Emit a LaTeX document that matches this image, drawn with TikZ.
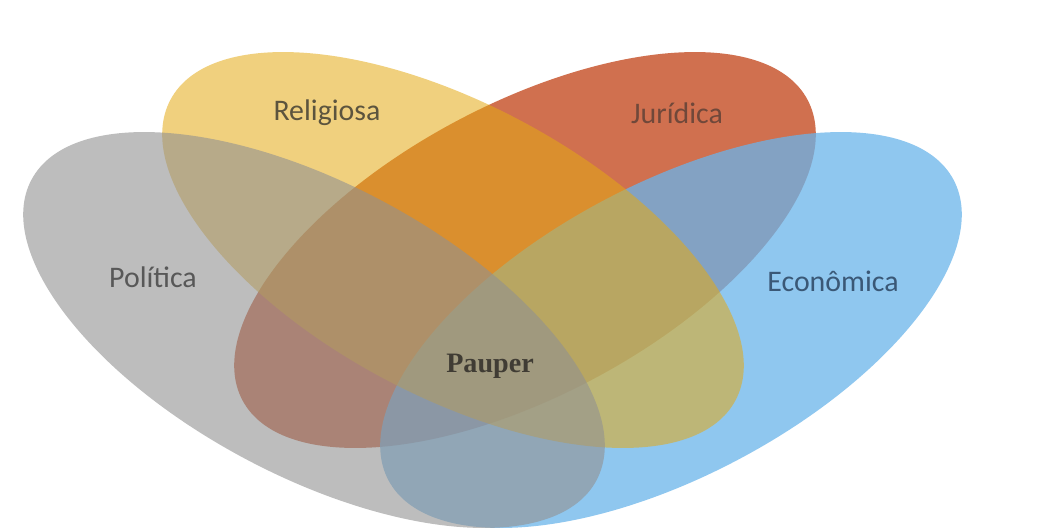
\documentclass[tikz,border=0pt]{standalone}
\usepackage{fontspec}
\setmainfont{Carlito}
\newfontfamily\pauperfont{Liberation Serif}
\usepackage{tikz}
\usetikzlibrary{positioning}
\definecolor{lobeRed}{RGB}{208,112,79}
\definecolor{lobeBlue}{RGB}{106,180,234}
\definecolor{lobeYellow}{RGB}{228,170,20}
\definecolor{lobeGray}{RGB}{145,145,145}
\definecolor{txtGray}{RGB}{88,88,88}
\definecolor{txtYellow}{RGB}{92,84,62}
\definecolor{txtRed}{RGB}{112,72,58}
\definecolor{txtBlue}{RGB}{58,88,118}
\definecolor{txtCore}{RGB}{64,60,52}

\tikzset{
  setlabel/.style={font=\fontsize{8.5pt}{10pt}\selectfont, inner sep=0pt},
  corelabel/.style={font=\pauperfont\bfseries\fontsize{8pt}{9pt}\selectfont, inner sep=0pt, text=txtCore}
}

\begin{document}
\begin{tikzpicture}[x=0.1mm, y=-0.1mm]
  \useasboundingbox (0,0) rectangle (1055,530);

  % same ellipse for all four sets, tilted by 28 degrees
  \pgfmathsetmacro{\ra}{320}
  \pgfmathsetmacro{\rb}{146}
  \pgfmathsetmacro{\tilt}{28}

  % Juridica (bottom layer)
  \fill[lobeRed, rotate around={\tilt:(525,250)}]
    (525,250) ellipse [x radius=\ra, y radius=\rb];

  % Economica
  \fill[lobeBlue, fill opacity=0.75, rotate around={\tilt:(671,330)}]
    (671,330) ellipse [x radius=\ra, y radius=\rb];

  % Religiosa
  \fill[lobeYellow, fill opacity=0.55, rotate around={-\tilt:(453,250)}]
    (453,250) ellipse [x radius=\ra, y radius=\rb];

  % Politica (top layer)
  \fill[lobeGray, fill opacity=0.6, rotate around={-\tilt:(314,330)}]
    (314,330) ellipse [x radius=\ra, y radius=\rb];

  % labels
  \node[setlabel, text=txtYellow] (religiosa) at (327,113) {Religiosa};
  \node[setlabel, text=txtRed] (juridica) at (677,113) {Jurídica};
  \node[setlabel, text=txtGray] (politica) at (153,277) {Política};
  \node[setlabel, text=txtBlue] (economica) at (833,281) {Econômica};
  \node[corelabel] (pauper) at (490,366) {Pauper};
\end{tikzpicture}
\end{document}
